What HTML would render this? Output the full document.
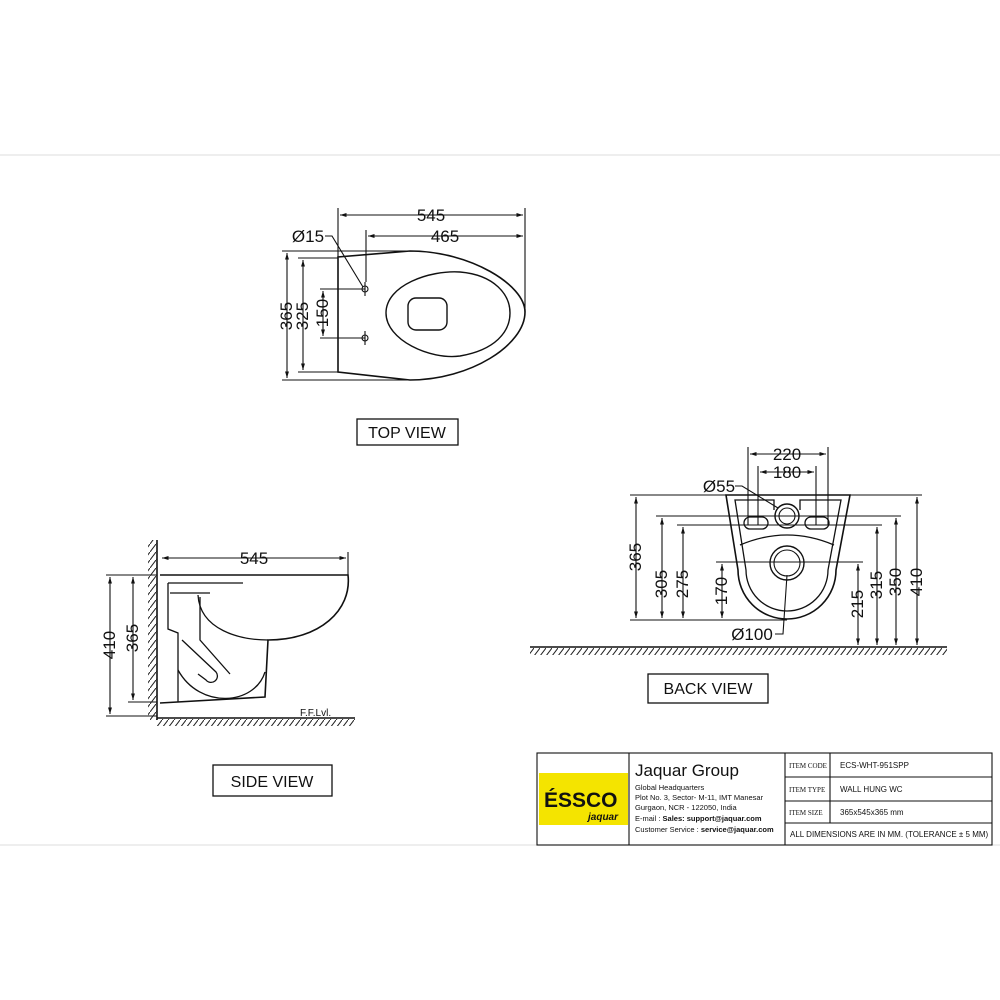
<!DOCTYPE html>
<html><head><style>body{margin:0;background:#fff}svg{display:block}text{font-family:"Liberation Sans",sans-serif;fill:#111}</style></head><body>
<svg width="1000" height="1000" viewBox="0 0 1000 1000" xmlns="http://www.w3.org/2000/svg">
<defs>
<pattern id="h" width="6" height="8" patternUnits="userSpaceOnUse"><line x1="0" y1="8" x2="6" y2="0" stroke="#222" stroke-width="1"/></pattern>
<marker id="a" viewBox="0 0 10 10" refX="10" refY="5" markerWidth="6" markerHeight="6" orient="auto-start-reverse"><path d="M0,2 L10,5 L0,8" fill="#111"/></marker>
</defs>
<line x1="0" y1="155" x2="1000" y2="155" stroke="#ddd"/>
<line x1="0" y1="845" x2="1000" y2="845" stroke="#ddd"/>
<g stroke="#111" fill="none" stroke-width="1.1">
<!-- TOP VIEW -->
<path d="M338,257 L338,372 L410,380 C470,380 525,345 525,312 C525,285 470,251 410,251 Z" stroke-width="1.6"/>
<path d="M386,313 C386,285 430,270 460,272 C495,275 510,295 510,313 C510,332 495,350 460,356 C430,360 386,340 386,313 Z" stroke-width="1.4"/>
<rect x="408" y="298" width="39" height="32" rx="8" stroke-width="1.4"/>
<circle cx="365" cy="289" r="3"/><circle cx="365" cy="338" r="3"/>
<line x1="365" y1="282" x2="365" y2="296"/><line x1="365" y1="331" x2="365" y2="345"/>
<line x1="338" y1="208" x2="338" y2="257"/><line x1="525" y1="208" x2="525" y2="312"/>
<line x1="366" y1="230" x2="366" y2="282"/>
<line x1="340" y1="215" x2="523" y2="215" marker-start="url(#a)" marker-end="url(#a)"/>
<line x1="368" y1="236" x2="523" y2="236" marker-start="url(#a)" marker-end="url(#a)"/>
<polyline points="325,236 332,236 363,287"/>
<line x1="282" y1="251" x2="410" y2="251"/><line x1="282" y1="380" x2="410" y2="380"/>
<line x1="298" y1="258" x2="338" y2="258"/><line x1="298" y1="372" x2="338" y2="372"/>
<line x1="320" y1="289" x2="365" y2="289"/><line x1="320" y1="338" x2="365" y2="338"/>
<line x1="287" y1="253" x2="287" y2="378" marker-start="url(#a)" marker-end="url(#a)"/>
<line x1="303" y1="260" x2="303" y2="370" marker-start="url(#a)" marker-end="url(#a)"/>
<line x1="323" y1="291" x2="323" y2="336" marker-start="url(#a)" marker-end="url(#a)"/>
<rect x="357" y="419" width="101" height="26" stroke-width="1.3"/>
<!-- BACK VIEW -->
<path d="M726,495 L850,495 L836,570 A49,49 0 0 1 738,570 Z" stroke-width="1.6"/>
<path d="M774,510 L774,500 L735,500 L746,570 A41,41 0 0 0 828,570 L841,500 L800,500 L800,510" stroke-width="1.3"/>
<path d="M740,545 Q787,525 834,545" stroke-width="1.3"/>
<circle cx="787" cy="516" r="12" stroke-width="1.4" fill="#fff"/><circle cx="787" cy="516" r="8"/>
<circle cx="787" cy="563" r="17" stroke-width="1.4"/><circle cx="787" cy="563" r="13"/>
<rect x="744" y="517" width="24" height="12" rx="6" stroke-width="1.3"/><rect x="805" y="517" width="24" height="12" rx="6" stroke-width="1.3"/>
<line x1="748" y1="447" x2="748" y2="525"/><line x1="828" y1="447" x2="828" y2="525"/>
<line x1="758" y1="466" x2="758" y2="525"/><line x1="816" y1="466" x2="816" y2="525"/>
<line x1="750" y1="454" x2="826" y2="454" marker-start="url(#a)" marker-end="url(#a)"/>
<line x1="760" y1="472" x2="814" y2="472" marker-start="url(#a)" marker-end="url(#a)"/>
<polyline points="735,486 742,486 778,508"/>
<polyline points="775,634 783,634 787,575"/>
<line x1="630" y1="495" x2="922" y2="495"/>
<line x1="656" y1="516" x2="901" y2="516"/>
<line x1="677" y1="525" x2="882" y2="525"/>
<line x1="716" y1="562" x2="863" y2="562"/>
<line x1="630" y1="620" x2="787" y2="620"/>
<line x1="636" y1="497" x2="636" y2="618" marker-start="url(#a)" marker-end="url(#a)"/>
<line x1="662" y1="518" x2="662" y2="618" marker-start="url(#a)" marker-end="url(#a)"/>
<line x1="683" y1="527" x2="683" y2="618" marker-start="url(#a)" marker-end="url(#a)"/>
<line x1="722" y1="564" x2="722" y2="618" marker-start="url(#a)" marker-end="url(#a)"/>
<line x1="858" y1="564" x2="858" y2="645" marker-start="url(#a)" marker-end="url(#a)"/>
<line x1="877" y1="527" x2="877" y2="645" marker-start="url(#a)" marker-end="url(#a)"/>
<line x1="896" y1="518" x2="896" y2="645" marker-start="url(#a)" marker-end="url(#a)"/>
<line x1="917" y1="497" x2="917" y2="645" marker-start="url(#a)" marker-end="url(#a)"/>
<line x1="530" y1="647" x2="947" y2="647" stroke-width="1.5"/>
<rect x="648" y="674" width="120" height="29" stroke-width="1.3"/>
<!-- SIDE VIEW -->
<line x1="157" y1="540" x2="157" y2="720" stroke-width="1.6"/>
<line x1="157" y1="718" x2="355" y2="718" stroke-width="1.6"/>
<path d="M160,575 L348,575 C352,610 320,640 268,640 L265,697 L160,703" stroke-width="1.6"/>
<path d="M168,583 L243,583 M170,593 L210,593 M168,583 L168,629 L178,633 L178,702" stroke-width="1.3"/>
<path d="M198,595 C200,630 240,640 268,640" stroke-width="1.3"/>
<path d="M182,640 L216,672 A6,6 0 0 1 206,680 L198,674 M200,597 L200,640 L230,674" stroke-width="1.3"/>
<path d="M178,670 C200,710 255,705 265,672" stroke-width="1.3"/>
<line x1="348" y1="552" x2="348" y2="575"/>
<line x1="162" y1="558" x2="346" y2="558" marker-start="url(#a)" marker-end="url(#a)"/>
<line x1="106" y1="575" x2="157" y2="575"/><line x1="106" y1="716" x2="157" y2="716"/><line x1="128" y1="702" x2="157" y2="702"/>
<line x1="110" y1="577" x2="110" y2="714" marker-start="url(#a)" marker-end="url(#a)"/>
<line x1="133" y1="577" x2="133" y2="700" marker-start="url(#a)" marker-end="url(#a)"/>
<rect x="213" y="765" width="119" height="31" stroke-width="1.3"/>
<!-- title block -->
<rect x="537" y="753" width="455" height="92"/>
<line x1="629" y1="753" x2="629" y2="845"/><line x1="785" y1="753" x2="785" y2="845"/>
<line x1="830" y1="753" x2="830" y2="823"/>
<line x1="785" y1="777" x2="992" y2="777"/><line x1="785" y1="801" x2="992" y2="801"/><line x1="785" y1="823" x2="992" y2="823"/>
</g>
<rect x="148" y="540" width="9" height="180" fill="url(#h)"/>
<rect x="157" y="719" width="198" height="7" fill="url(#h)"/>
<rect x="530" y="648" width="417" height="7" fill="url(#h)"/>
<rect x="539" y="773" width="89" height="52" fill="#f4e400"/>
<text x="544" y="807" font-size="21" font-weight="bold" fill="#222">ÉSSCO</text>
<text x="588" y="820" font-size="10" font-style="italic" font-weight="bold">jaquar</text>
<g font-size="17" text-anchor="middle">
<text x="431" y="221">545</text><text x="445" y="242">465</text><text x="308" y="242">Ø15</text>
<text x="254" y="564">545</text><text x="787" y="460">220</text><text x="787" y="478">180</text>
<text x="719" y="492">Ø55</text><text x="752" y="640">Ø100</text>
</g>
<g font-size="17" text-anchor="middle">
<text transform="translate(292,316) rotate(-90)">365</text>
<text transform="translate(308,316) rotate(-90)">325</text>
<text transform="translate(328,313) rotate(-90)">150</text>
<text transform="translate(641,557) rotate(-90)">365</text>
<text transform="translate(667,584) rotate(-90)">305</text>
<text transform="translate(688,584) rotate(-90)">275</text>
<text transform="translate(727,591) rotate(-90)">170</text>
<text transform="translate(863,604) rotate(-90)">215</text>
<text transform="translate(882,585) rotate(-90)">315</text>
<text transform="translate(901,582) rotate(-90)">350</text>
<text transform="translate(922,582) rotate(-90)">410</text>
<text transform="translate(115,645) rotate(-90)">410</text>
<text transform="translate(138,638) rotate(-90)">365</text>
</g>
<g font-size="16" text-anchor="middle">
<text x="407" y="438">TOP VIEW</text><text x="708" y="694">BACK VIEW</text><text x="272" y="787">SIDE VIEW</text>
</g>
<text x="300" y="716" font-size="10">F.F.Lvl.</text>
<text x="635" y="776" font-size="17">Jaquar Group</text>
<g font-size="7.5"><text x="635" y="790">Global Headquarters</text><text x="635" y="800">Plot No. 3, Sector- M-11, IMT Manesar</text><text x="635" y="810">Gurgaon, NCR - 122050, India</text><text x="635" y="821">E-mail : <tspan font-weight="bold">Sales: support@jaquar.com</tspan></text><text x="635" y="832">Customer Service : <tspan font-weight="bold">service@jaquar.com</tspan></text></g>
<g font-size="7" fill="#666"><text x="789" y="768" style="font-family:'Liberation Serif'">ITEM CODE</text><text x="789" y="792" style="font-family:'Liberation Serif'">ITEM TYPE</text><text x="789" y="815" style="font-family:'Liberation Serif'">ITEM SIZE</text></g>
<g font-size="8"><text x="840" y="768">ECS-WHT-951SPP</text><text x="840" y="792">WALL HUNG WC</text><text x="840" y="815">365x545x365 mm</text><text x="790" y="837">ALL DIMENSIONS ARE IN MM. (TOLERANCE ± 5 MM)</text></g>
</svg>
</body></html>
